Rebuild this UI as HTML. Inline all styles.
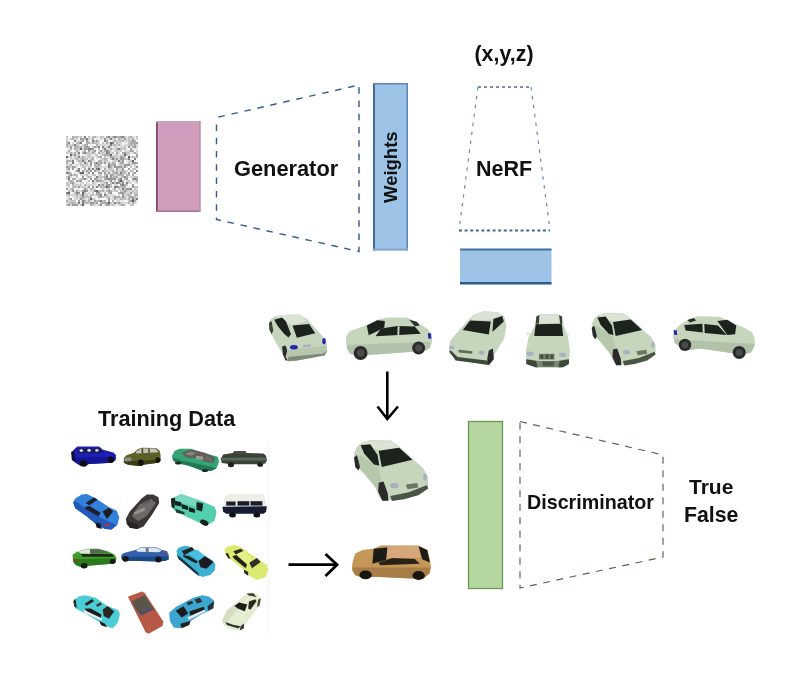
<!DOCTYPE html>
<html><head><meta charset="utf-8">
<style>
html,body{margin:0;padding:0;background:#fff;width:802px;height:675px;overflow:hidden}
svg{display:block}
text{will-change:transform}
text{font-family:"Liberation Sans",sans-serif;font-weight:bold;fill:#111}
</style></head><body>
<svg width="802" height="675" viewBox="0 0 802 675">
<defs>
<filter id="nblur" x="-5%" y="-5%" width="110%" height="110%"><feGaussianBlur stdDeviation="0.55"/></filter>
<filter id="soft" x="-5%" y="-5%" width="110%" height="110%"><feGaussianBlur stdDeviation="0.7"/></filter>
<filter id="soft2" x="-5%" y="-5%" width="110%" height="110%"><feGaussianBlur stdDeviation="0.72"/></filter>
</defs>
<rect x="0" y="0" width="802" height="675" fill="#fff"/>

<!-- noise square -->
<g filter="url(#nblur)">
<path fill="rgb(100,100,100)" d="M110 142h2v2h-2zM80 148h2v2h-2zM70 154h2v2h-2zM110 154h2v2h-2zM124 154h2v2h-2zM66 156h2v2h-2zM128 156h2v2h-2zM132 160h2v2h-2zM98 168h2v2h-2zM80 172h2v2h-2zM82 172h2v2h-2zM120 180h2v2h-2zM106 186h2v2h-2zM96 190h2v2h-2zM68 192h2v2h-2zM82 192h2v2h-2zM90 198h2v2h-2zM132 200h2v2h-2zM108 202h2v2h-2zM82 204h2v2h-2z"/>
<path fill="rgb(130,130,130)" d="M84 136h2v2h-2zM108 136h2v2h-2zM114 136h2v2h-2zM122 136h2v2h-2zM86 138h2v2h-2zM110 138h2v2h-2zM74 140h2v2h-2zM92 140h2v2h-2zM104 140h2v2h-2zM68 142h2v2h-2zM80 142h2v2h-2zM112 142h2v2h-2zM74 144h2v2h-2zM110 144h2v2h-2zM98 146h2v2h-2zM102 146h2v2h-2zM108 146h2v2h-2zM88 148h2v2h-2zM90 148h2v2h-2zM104 148h2v2h-2zM118 148h2v2h-2zM106 150h2v2h-2zM78 152h2v2h-2zM84 152h2v2h-2zM106 152h2v2h-2zM78 156h2v2h-2zM112 158h2v2h-2zM128 158h2v2h-2zM134 158h2v2h-2zM72 160h2v2h-2zM82 160h2v2h-2zM88 160h2v2h-2zM118 160h2v2h-2zM72 162h2v2h-2zM84 162h2v2h-2zM96 162h2v2h-2zM108 164h2v2h-2zM108 166h2v2h-2zM78 168h2v2h-2zM88 168h2v2h-2zM92 168h2v2h-2zM96 168h2v2h-2zM78 170h2v2h-2zM136 170h2v2h-2zM66 172h2v2h-2zM92 172h2v2h-2zM120 172h2v2h-2zM96 176h2v2h-2zM106 176h2v2h-2zM68 178h2v2h-2zM84 178h2v2h-2zM108 178h2v2h-2zM120 178h2v2h-2zM134 178h2v2h-2zM92 180h2v2h-2zM112 182h2v2h-2zM116 182h2v2h-2zM126 182h2v2h-2zM98 184h2v2h-2zM122 184h2v2h-2zM96 186h2v2h-2zM114 186h2v2h-2zM116 186h2v2h-2zM122 188h2v2h-2zM130 188h2v2h-2zM84 190h2v2h-2zM94 190h2v2h-2zM66 192h2v2h-2zM76 192h2v2h-2zM82 194h2v2h-2zM100 194h2v2h-2zM104 194h2v2h-2zM132 198h2v2h-2zM136 198h2v2h-2zM82 200h2v2h-2zM100 200h2v2h-2zM78 202h2v2h-2zM82 202h2v2h-2zM114 202h2v2h-2z"/>
<path fill="rgb(155,155,155)" d="M120 136h2v2h-2zM80 138h2v2h-2zM104 138h2v2h-2zM124 138h2v2h-2zM82 140h2v2h-2zM86 140h2v2h-2zM96 140h2v2h-2zM132 140h2v2h-2zM136 142h2v2h-2zM70 146h2v2h-2zM86 146h2v2h-2zM94 146h2v2h-2zM128 146h2v2h-2zM134 146h2v2h-2zM84 148h2v2h-2zM92 148h2v2h-2zM88 150h2v2h-2zM94 150h2v2h-2zM100 150h2v2h-2zM130 150h2v2h-2zM92 152h2v2h-2zM98 152h2v2h-2zM108 152h2v2h-2zM124 152h2v2h-2zM74 154h2v2h-2zM136 154h2v2h-2zM120 156h2v2h-2zM116 158h2v2h-2zM120 158h2v2h-2zM122 158h2v2h-2zM122 160h2v2h-2zM90 162h2v2h-2zM100 162h2v2h-2zM104 162h2v2h-2zM122 162h2v2h-2zM132 162h2v2h-2zM134 162h2v2h-2zM90 164h2v2h-2zM98 164h2v2h-2zM114 164h2v2h-2zM124 164h2v2h-2zM126 164h2v2h-2zM128 164h2v2h-2zM66 166h2v2h-2zM72 166h2v2h-2zM114 166h2v2h-2zM116 166h2v2h-2zM118 166h2v2h-2zM120 166h2v2h-2zM124 166h2v2h-2zM136 166h2v2h-2zM68 168h2v2h-2zM72 168h2v2h-2zM116 168h2v2h-2zM122 168h2v2h-2zM128 168h2v2h-2zM76 170h2v2h-2zM82 170h2v2h-2zM86 170h2v2h-2zM90 170h2v2h-2zM94 170h2v2h-2zM102 170h2v2h-2zM68 172h2v2h-2zM88 172h2v2h-2zM100 172h2v2h-2zM104 172h2v2h-2zM108 172h2v2h-2zM116 172h2v2h-2zM128 172h2v2h-2zM134 172h2v2h-2zM70 174h2v2h-2zM106 174h2v2h-2zM110 174h2v2h-2zM68 176h2v2h-2zM82 176h2v2h-2zM110 176h2v2h-2zM124 176h2v2h-2zM90 178h2v2h-2zM94 178h2v2h-2zM106 178h2v2h-2zM110 178h2v2h-2zM112 178h2v2h-2zM114 178h2v2h-2zM126 178h2v2h-2zM132 178h2v2h-2zM136 178h2v2h-2zM76 180h2v2h-2zM80 180h2v2h-2zM96 180h2v2h-2zM98 180h2v2h-2zM110 180h2v2h-2zM118 180h2v2h-2zM72 182h2v2h-2zM106 182h2v2h-2zM118 182h2v2h-2zM122 182h2v2h-2zM102 184h2v2h-2zM106 184h2v2h-2zM108 184h2v2h-2zM120 184h2v2h-2zM132 184h2v2h-2zM78 186h2v2h-2zM88 186h2v2h-2zM92 186h2v2h-2zM108 186h2v2h-2zM132 186h2v2h-2zM66 188h2v2h-2zM84 188h2v2h-2zM126 188h2v2h-2zM128 188h2v2h-2zM72 190h2v2h-2zM82 190h2v2h-2zM86 190h2v2h-2zM108 190h2v2h-2zM124 190h2v2h-2zM78 192h2v2h-2zM96 192h2v2h-2zM98 192h2v2h-2zM110 192h2v2h-2zM120 192h2v2h-2zM122 192h2v2h-2zM130 192h2v2h-2zM122 194h2v2h-2zM82 196h2v2h-2zM100 196h2v2h-2zM114 196h2v2h-2zM122 196h2v2h-2zM130 196h2v2h-2zM70 198h2v2h-2zM80 198h2v2h-2zM108 198h2v2h-2zM78 200h2v2h-2zM94 200h2v2h-2zM108 200h2v2h-2zM130 200h2v2h-2zM90 202h2v2h-2zM92 202h2v2h-2zM96 202h2v2h-2zM106 202h2v2h-2zM118 202h2v2h-2zM68 204h2v2h-2zM72 204h2v2h-2zM74 204h2v2h-2zM76 204h2v2h-2zM100 204h2v2h-2zM106 204h2v2h-2zM122 204h2v2h-2z"/>
<path fill="rgb(175,175,175)" d="M72 136h2v2h-2zM76 136h2v2h-2zM94 136h2v2h-2zM106 136h2v2h-2zM112 136h2v2h-2zM116 136h2v2h-2zM118 136h2v2h-2zM130 136h2v2h-2zM72 138h2v2h-2zM82 138h2v2h-2zM84 138h2v2h-2zM92 138h2v2h-2zM118 138h2v2h-2zM132 138h2v2h-2zM106 140h2v2h-2zM114 140h2v2h-2zM122 140h2v2h-2zM134 140h2v2h-2zM78 142h2v2h-2zM86 142h2v2h-2zM88 142h2v2h-2zM92 142h2v2h-2zM106 142h2v2h-2zM116 142h2v2h-2zM130 142h2v2h-2zM132 142h2v2h-2zM134 142h2v2h-2zM66 144h2v2h-2zM84 144h2v2h-2zM86 144h2v2h-2zM96 144h2v2h-2zM114 144h2v2h-2zM118 144h2v2h-2zM130 144h2v2h-2zM134 144h2v2h-2zM74 146h2v2h-2zM76 146h2v2h-2zM80 146h2v2h-2zM84 146h2v2h-2zM88 146h2v2h-2zM132 146h2v2h-2zM70 148h2v2h-2zM74 148h2v2h-2zM86 148h2v2h-2zM110 148h2v2h-2zM116 148h2v2h-2zM130 148h2v2h-2zM68 150h2v2h-2zM76 150h2v2h-2zM84 150h2v2h-2zM104 150h2v2h-2zM108 150h2v2h-2zM132 150h2v2h-2zM70 152h2v2h-2zM74 152h2v2h-2zM82 152h2v2h-2zM116 152h2v2h-2zM122 152h2v2h-2zM134 152h2v2h-2zM104 154h2v2h-2zM106 154h2v2h-2zM108 154h2v2h-2zM82 156h2v2h-2zM98 156h2v2h-2zM100 156h2v2h-2zM110 156h2v2h-2zM112 156h2v2h-2zM122 156h2v2h-2zM132 156h2v2h-2zM136 156h2v2h-2zM76 158h2v2h-2zM82 158h2v2h-2zM92 158h2v2h-2zM104 158h2v2h-2zM66 160h2v2h-2zM68 160h2v2h-2zM78 160h2v2h-2zM90 160h2v2h-2zM98 160h2v2h-2zM100 160h2v2h-2zM66 162h2v2h-2zM94 162h2v2h-2zM108 162h2v2h-2zM112 162h2v2h-2zM120 162h2v2h-2zM136 162h2v2h-2zM70 164h2v2h-2zM94 164h2v2h-2zM110 164h2v2h-2zM112 164h2v2h-2zM68 166h2v2h-2zM74 166h2v2h-2zM96 166h2v2h-2zM110 166h2v2h-2zM84 168h2v2h-2zM104 168h2v2h-2zM112 170h2v2h-2zM122 170h2v2h-2zM130 170h2v2h-2zM98 172h2v2h-2zM114 172h2v2h-2zM124 172h2v2h-2zM74 174h2v2h-2zM112 174h2v2h-2zM118 174h2v2h-2zM120 174h2v2h-2zM122 174h2v2h-2zM126 174h2v2h-2zM128 174h2v2h-2zM132 174h2v2h-2zM88 176h2v2h-2zM104 176h2v2h-2zM114 176h2v2h-2zM116 176h2v2h-2zM122 176h2v2h-2zM126 176h2v2h-2zM72 178h2v2h-2zM74 178h2v2h-2zM82 178h2v2h-2zM96 178h2v2h-2zM104 178h2v2h-2zM118 178h2v2h-2zM124 178h2v2h-2zM70 180h2v2h-2zM78 180h2v2h-2zM100 180h2v2h-2zM122 180h2v2h-2zM136 180h2v2h-2zM70 182h2v2h-2zM72 184h2v2h-2zM84 184h2v2h-2zM124 184h2v2h-2zM74 186h2v2h-2zM100 186h2v2h-2zM104 186h2v2h-2zM118 186h2v2h-2zM122 186h2v2h-2zM124 186h2v2h-2zM72 188h2v2h-2zM90 188h2v2h-2zM114 188h2v2h-2zM76 190h2v2h-2zM98 190h2v2h-2zM102 190h2v2h-2zM110 190h2v2h-2zM108 192h2v2h-2zM118 192h2v2h-2zM76 194h2v2h-2zM98 194h2v2h-2zM128 194h2v2h-2zM134 194h2v2h-2zM136 194h2v2h-2zM90 196h2v2h-2zM98 196h2v2h-2zM116 196h2v2h-2zM118 196h2v2h-2zM132 196h2v2h-2zM114 198h2v2h-2zM120 198h2v2h-2zM128 198h2v2h-2zM66 200h2v2h-2zM84 200h2v2h-2zM88 200h2v2h-2zM98 200h2v2h-2zM104 200h2v2h-2zM112 200h2v2h-2zM134 200h2v2h-2zM72 202h2v2h-2zM86 202h2v2h-2zM100 202h2v2h-2zM102 202h2v2h-2zM104 202h2v2h-2zM128 202h2v2h-2zM132 202h2v2h-2zM90 204h2v2h-2zM108 204h2v2h-2z"/>
<path fill="rgb(195,195,195)" d="M66 136h2v2h-2zM74 136h2v2h-2zM80 136h2v2h-2zM88 136h2v2h-2zM92 136h2v2h-2zM100 136h2v2h-2zM102 136h2v2h-2zM124 136h2v2h-2zM128 136h2v2h-2zM136 136h2v2h-2zM70 138h2v2h-2zM114 138h2v2h-2zM120 138h2v2h-2zM128 138h2v2h-2zM66 140h2v2h-2zM80 140h2v2h-2zM94 140h2v2h-2zM118 140h2v2h-2zM120 140h2v2h-2zM128 140h2v2h-2zM130 140h2v2h-2zM66 142h2v2h-2zM76 142h2v2h-2zM94 142h2v2h-2zM96 142h2v2h-2zM102 142h2v2h-2zM128 142h2v2h-2zM68 144h2v2h-2zM72 144h2v2h-2zM76 144h2v2h-2zM112 144h2v2h-2zM128 144h2v2h-2zM132 144h2v2h-2zM66 146h2v2h-2zM78 146h2v2h-2zM92 146h2v2h-2zM96 146h2v2h-2zM124 146h2v2h-2zM76 148h2v2h-2zM78 148h2v2h-2zM98 148h2v2h-2zM102 148h2v2h-2zM120 148h2v2h-2zM122 148h2v2h-2zM124 148h2v2h-2zM92 150h2v2h-2zM116 150h2v2h-2zM120 150h2v2h-2zM66 152h2v2h-2zM86 152h2v2h-2zM88 152h2v2h-2zM102 152h2v2h-2zM112 152h2v2h-2zM126 152h2v2h-2zM128 152h2v2h-2zM72 154h2v2h-2zM78 154h2v2h-2zM88 154h2v2h-2zM96 154h2v2h-2zM102 154h2v2h-2zM116 154h2v2h-2zM126 154h2v2h-2zM70 156h2v2h-2zM74 156h2v2h-2zM88 156h2v2h-2zM92 156h2v2h-2zM104 156h2v2h-2zM114 156h2v2h-2zM124 156h2v2h-2zM80 158h2v2h-2zM84 158h2v2h-2zM86 158h2v2h-2zM90 158h2v2h-2zM102 158h2v2h-2zM106 158h2v2h-2zM110 158h2v2h-2zM114 158h2v2h-2zM124 158h2v2h-2zM126 158h2v2h-2zM70 160h2v2h-2zM80 160h2v2h-2zM84 160h2v2h-2zM104 160h2v2h-2zM106 160h2v2h-2zM114 160h2v2h-2zM120 160h2v2h-2zM130 160h2v2h-2zM80 162h2v2h-2zM86 162h2v2h-2zM98 162h2v2h-2zM114 162h2v2h-2zM128 162h2v2h-2zM80 164h2v2h-2zM82 164h2v2h-2zM86 164h2v2h-2zM96 164h2v2h-2zM120 164h2v2h-2zM82 166h2v2h-2zM84 166h2v2h-2zM88 166h2v2h-2zM94 166h2v2h-2zM98 166h2v2h-2zM122 166h2v2h-2zM130 166h2v2h-2zM66 168h2v2h-2zM108 168h2v2h-2zM110 168h2v2h-2zM132 168h2v2h-2zM134 168h2v2h-2zM88 170h2v2h-2zM96 170h2v2h-2zM98 170h2v2h-2zM104 170h2v2h-2zM106 170h2v2h-2zM116 170h2v2h-2zM120 170h2v2h-2zM124 170h2v2h-2zM70 172h2v2h-2zM78 172h2v2h-2zM112 172h2v2h-2zM122 172h2v2h-2zM132 172h2v2h-2zM68 174h2v2h-2zM72 174h2v2h-2zM76 174h2v2h-2zM86 174h2v2h-2zM92 174h2v2h-2zM94 174h2v2h-2zM100 174h2v2h-2zM104 174h2v2h-2zM116 174h2v2h-2zM66 176h2v2h-2zM76 176h2v2h-2zM90 176h2v2h-2zM98 176h2v2h-2zM100 176h2v2h-2zM102 176h2v2h-2zM112 176h2v2h-2zM134 176h2v2h-2zM136 176h2v2h-2zM80 178h2v2h-2zM100 178h2v2h-2zM68 180h2v2h-2zM72 180h2v2h-2zM88 180h2v2h-2zM102 180h2v2h-2zM114 180h2v2h-2zM128 180h2v2h-2zM66 182h2v2h-2zM92 182h2v2h-2zM104 182h2v2h-2zM110 182h2v2h-2zM114 182h2v2h-2zM120 182h2v2h-2zM66 184h2v2h-2zM68 184h2v2h-2zM76 184h2v2h-2zM80 184h2v2h-2zM100 184h2v2h-2zM110 184h2v2h-2zM126 184h2v2h-2zM72 186h2v2h-2zM82 186h2v2h-2zM102 186h2v2h-2zM110 186h2v2h-2zM120 186h2v2h-2zM134 186h2v2h-2zM136 186h2v2h-2zM70 188h2v2h-2zM86 188h2v2h-2zM92 188h2v2h-2zM102 188h2v2h-2zM108 188h2v2h-2zM118 188h2v2h-2zM124 188h2v2h-2zM134 188h2v2h-2zM68 190h2v2h-2zM100 190h2v2h-2zM106 190h2v2h-2zM114 190h2v2h-2zM116 190h2v2h-2zM120 190h2v2h-2zM122 190h2v2h-2zM126 190h2v2h-2zM132 190h2v2h-2zM136 190h2v2h-2zM74 192h2v2h-2zM84 192h2v2h-2zM92 192h2v2h-2zM104 192h2v2h-2zM124 192h2v2h-2zM134 192h2v2h-2zM136 192h2v2h-2zM66 194h2v2h-2zM68 194h2v2h-2zM80 194h2v2h-2zM86 194h2v2h-2zM90 194h2v2h-2zM92 194h2v2h-2zM96 194h2v2h-2zM106 194h2v2h-2zM126 194h2v2h-2zM76 196h2v2h-2zM80 196h2v2h-2zM84 196h2v2h-2zM86 196h2v2h-2zM88 196h2v2h-2zM102 196h2v2h-2zM106 196h2v2h-2zM108 196h2v2h-2zM124 196h2v2h-2zM128 196h2v2h-2zM134 196h2v2h-2zM68 198h2v2h-2zM82 198h2v2h-2zM88 198h2v2h-2zM92 198h2v2h-2zM122 198h2v2h-2zM124 198h2v2h-2zM134 198h2v2h-2zM70 200h2v2h-2zM72 200h2v2h-2zM74 200h2v2h-2zM96 200h2v2h-2zM102 200h2v2h-2zM128 200h2v2h-2zM68 202h2v2h-2zM70 202h2v2h-2zM74 202h2v2h-2zM84 202h2v2h-2zM88 202h2v2h-2zM94 202h2v2h-2zM110 202h2v2h-2zM116 202h2v2h-2zM120 202h2v2h-2zM66 204h2v2h-2zM80 204h2v2h-2zM92 204h2v2h-2zM98 204h2v2h-2zM112 204h2v2h-2zM120 204h2v2h-2zM130 204h2v2h-2zM132 204h2v2h-2z"/>
<path fill="rgb(215,215,215)" d="M78 136h2v2h-2zM96 136h2v2h-2zM110 136h2v2h-2zM132 136h2v2h-2zM66 138h2v2h-2zM74 138h2v2h-2zM76 138h2v2h-2zM88 138h2v2h-2zM90 138h2v2h-2zM100 138h2v2h-2zM106 138h2v2h-2zM108 138h2v2h-2zM112 138h2v2h-2zM122 138h2v2h-2zM126 138h2v2h-2zM130 138h2v2h-2zM136 138h2v2h-2zM78 140h2v2h-2zM88 140h2v2h-2zM98 140h2v2h-2zM112 140h2v2h-2zM116 140h2v2h-2zM124 140h2v2h-2zM126 140h2v2h-2zM72 142h2v2h-2zM90 142h2v2h-2zM98 142h2v2h-2zM108 142h2v2h-2zM118 142h2v2h-2zM120 142h2v2h-2zM70 144h2v2h-2zM78 144h2v2h-2zM82 144h2v2h-2zM98 144h2v2h-2zM100 144h2v2h-2zM102 144h2v2h-2zM104 144h2v2h-2zM106 144h2v2h-2zM108 144h2v2h-2zM116 144h2v2h-2zM120 144h2v2h-2zM124 144h2v2h-2zM126 144h2v2h-2zM136 144h2v2h-2zM68 146h2v2h-2zM82 146h2v2h-2zM104 146h2v2h-2zM106 146h2v2h-2zM110 146h2v2h-2zM114 146h2v2h-2zM116 146h2v2h-2zM120 146h2v2h-2zM122 146h2v2h-2zM136 146h2v2h-2zM82 148h2v2h-2zM106 148h2v2h-2zM108 148h2v2h-2zM112 148h2v2h-2zM114 148h2v2h-2zM78 150h2v2h-2zM82 150h2v2h-2zM90 150h2v2h-2zM98 150h2v2h-2zM102 150h2v2h-2zM110 150h2v2h-2zM114 150h2v2h-2zM118 150h2v2h-2zM124 150h2v2h-2zM126 150h2v2h-2zM128 150h2v2h-2zM136 150h2v2h-2zM68 152h2v2h-2zM72 152h2v2h-2zM76 152h2v2h-2zM90 152h2v2h-2zM94 152h2v2h-2zM100 152h2v2h-2zM104 152h2v2h-2zM110 152h2v2h-2zM118 152h2v2h-2zM132 152h2v2h-2zM136 152h2v2h-2zM76 154h2v2h-2zM86 154h2v2h-2zM90 154h2v2h-2zM94 154h2v2h-2zM100 154h2v2h-2zM114 154h2v2h-2zM120 154h2v2h-2zM122 154h2v2h-2zM128 154h2v2h-2zM68 156h2v2h-2zM76 156h2v2h-2zM80 156h2v2h-2zM84 156h2v2h-2zM86 156h2v2h-2zM90 156h2v2h-2zM96 156h2v2h-2zM108 156h2v2h-2zM116 156h2v2h-2zM118 156h2v2h-2zM130 156h2v2h-2zM134 156h2v2h-2zM66 158h2v2h-2zM70 158h2v2h-2zM72 158h2v2h-2zM74 158h2v2h-2zM78 158h2v2h-2zM100 158h2v2h-2zM118 158h2v2h-2zM76 160h2v2h-2zM92 160h2v2h-2zM102 160h2v2h-2zM112 160h2v2h-2zM116 160h2v2h-2zM128 160h2v2h-2zM78 162h2v2h-2zM102 162h2v2h-2zM110 162h2v2h-2zM118 162h2v2h-2zM130 162h2v2h-2zM66 164h2v2h-2zM68 164h2v2h-2zM76 164h2v2h-2zM84 164h2v2h-2zM100 164h2v2h-2zM118 164h2v2h-2zM122 164h2v2h-2zM130 164h2v2h-2zM132 164h2v2h-2zM134 164h2v2h-2zM70 166h2v2h-2zM90 166h2v2h-2zM100 166h2v2h-2zM102 166h2v2h-2zM104 166h2v2h-2zM106 166h2v2h-2zM112 166h2v2h-2zM126 166h2v2h-2zM134 166h2v2h-2zM76 168h2v2h-2zM90 168h2v2h-2zM94 168h2v2h-2zM100 168h2v2h-2zM112 168h2v2h-2zM118 168h2v2h-2zM120 168h2v2h-2zM66 170h2v2h-2zM68 170h2v2h-2zM84 170h2v2h-2zM108 170h2v2h-2zM110 170h2v2h-2zM114 170h2v2h-2zM118 170h2v2h-2zM126 170h2v2h-2zM132 170h2v2h-2zM74 172h2v2h-2zM86 172h2v2h-2zM118 172h2v2h-2zM80 174h2v2h-2zM82 174h2v2h-2zM84 174h2v2h-2zM98 174h2v2h-2zM114 174h2v2h-2zM70 176h2v2h-2zM86 176h2v2h-2zM120 176h2v2h-2zM130 176h2v2h-2zM132 176h2v2h-2zM66 178h2v2h-2zM78 178h2v2h-2zM86 178h2v2h-2zM98 178h2v2h-2zM116 178h2v2h-2zM94 180h2v2h-2zM104 180h2v2h-2zM108 180h2v2h-2zM126 180h2v2h-2zM132 180h2v2h-2zM134 180h2v2h-2zM68 182h2v2h-2zM74 182h2v2h-2zM80 182h2v2h-2zM82 182h2v2h-2zM86 182h2v2h-2zM94 182h2v2h-2zM100 182h2v2h-2zM102 182h2v2h-2zM128 182h2v2h-2zM130 182h2v2h-2zM136 182h2v2h-2zM74 184h2v2h-2zM78 184h2v2h-2zM86 184h2v2h-2zM88 184h2v2h-2zM90 184h2v2h-2zM92 184h2v2h-2zM94 184h2v2h-2zM104 184h2v2h-2zM114 184h2v2h-2zM116 184h2v2h-2zM68 186h2v2h-2zM76 186h2v2h-2zM80 186h2v2h-2zM84 186h2v2h-2zM86 186h2v2h-2zM98 186h2v2h-2zM94 188h2v2h-2zM106 188h2v2h-2zM112 188h2v2h-2zM120 188h2v2h-2zM136 188h2v2h-2zM70 190h2v2h-2zM74 190h2v2h-2zM78 190h2v2h-2zM80 190h2v2h-2zM90 190h2v2h-2zM92 190h2v2h-2zM104 190h2v2h-2zM112 190h2v2h-2zM128 190h2v2h-2zM130 190h2v2h-2zM134 190h2v2h-2zM88 192h2v2h-2zM100 192h2v2h-2zM126 192h2v2h-2zM128 192h2v2h-2zM132 192h2v2h-2zM70 194h2v2h-2zM72 194h2v2h-2zM74 194h2v2h-2zM78 194h2v2h-2zM84 194h2v2h-2zM94 194h2v2h-2zM110 194h2v2h-2zM112 194h2v2h-2zM118 194h2v2h-2zM124 194h2v2h-2zM130 194h2v2h-2zM68 196h2v2h-2zM74 196h2v2h-2zM78 196h2v2h-2zM104 196h2v2h-2zM112 196h2v2h-2zM120 196h2v2h-2zM136 196h2v2h-2zM74 198h2v2h-2zM76 198h2v2h-2zM78 198h2v2h-2zM84 198h2v2h-2zM94 198h2v2h-2zM112 198h2v2h-2zM116 198h2v2h-2zM118 198h2v2h-2zM126 198h2v2h-2zM130 198h2v2h-2zM68 200h2v2h-2zM86 200h2v2h-2zM90 200h2v2h-2zM116 200h2v2h-2zM118 200h2v2h-2zM66 202h2v2h-2zM76 202h2v2h-2zM112 202h2v2h-2zM122 202h2v2h-2zM124 202h2v2h-2zM126 202h2v2h-2zM134 202h2v2h-2zM70 204h2v2h-2zM94 204h2v2h-2zM104 204h2v2h-2zM110 204h2v2h-2zM114 204h2v2h-2zM118 204h2v2h-2zM124 204h2v2h-2z"/>
<path fill="rgb(235,235,235)" d="M82 136h2v2h-2zM90 136h2v2h-2zM98 136h2v2h-2zM104 136h2v2h-2zM126 136h2v2h-2zM134 136h2v2h-2zM68 138h2v2h-2zM96 138h2v2h-2zM98 138h2v2h-2zM102 138h2v2h-2zM116 138h2v2h-2zM134 138h2v2h-2zM68 140h2v2h-2zM76 140h2v2h-2zM108 140h2v2h-2zM104 142h2v2h-2zM114 142h2v2h-2zM124 142h2v2h-2zM126 142h2v2h-2zM80 144h2v2h-2zM90 144h2v2h-2zM122 144h2v2h-2zM72 146h2v2h-2zM112 146h2v2h-2zM118 146h2v2h-2zM126 146h2v2h-2zM130 146h2v2h-2zM68 148h2v2h-2zM72 148h2v2h-2zM94 148h2v2h-2zM126 148h2v2h-2zM132 148h2v2h-2zM134 148h2v2h-2zM136 148h2v2h-2zM66 150h2v2h-2zM70 150h2v2h-2zM74 150h2v2h-2zM112 150h2v2h-2zM130 152h2v2h-2zM82 154h2v2h-2zM84 154h2v2h-2zM112 154h2v2h-2zM118 154h2v2h-2zM72 156h2v2h-2zM94 156h2v2h-2zM106 156h2v2h-2zM88 158h2v2h-2zM96 158h2v2h-2zM108 158h2v2h-2zM130 158h2v2h-2zM86 160h2v2h-2zM94 160h2v2h-2zM108 160h2v2h-2zM126 160h2v2h-2zM134 160h2v2h-2zM68 162h2v2h-2zM70 162h2v2h-2zM74 162h2v2h-2zM82 162h2v2h-2zM88 162h2v2h-2zM92 162h2v2h-2zM106 162h2v2h-2zM126 162h2v2h-2zM72 164h2v2h-2zM74 164h2v2h-2zM78 164h2v2h-2zM88 164h2v2h-2zM104 164h2v2h-2zM106 164h2v2h-2zM136 164h2v2h-2zM76 166h2v2h-2zM80 166h2v2h-2zM86 166h2v2h-2zM70 168h2v2h-2zM80 168h2v2h-2zM86 168h2v2h-2zM106 168h2v2h-2zM74 170h2v2h-2zM84 172h2v2h-2zM102 172h2v2h-2zM106 172h2v2h-2zM110 172h2v2h-2zM126 172h2v2h-2zM88 174h2v2h-2zM90 174h2v2h-2zM108 174h2v2h-2zM72 176h2v2h-2zM74 176h2v2h-2zM94 176h2v2h-2zM108 176h2v2h-2zM118 176h2v2h-2zM128 176h2v2h-2zM102 178h2v2h-2zM86 180h2v2h-2zM90 180h2v2h-2zM106 180h2v2h-2zM112 180h2v2h-2zM130 180h2v2h-2zM76 182h2v2h-2zM78 182h2v2h-2zM88 182h2v2h-2zM96 182h2v2h-2zM124 182h2v2h-2zM134 182h2v2h-2zM96 184h2v2h-2zM66 186h2v2h-2zM94 186h2v2h-2zM112 186h2v2h-2zM126 186h2v2h-2zM128 186h2v2h-2zM130 186h2v2h-2zM68 188h2v2h-2zM76 188h2v2h-2zM78 188h2v2h-2zM82 188h2v2h-2zM88 188h2v2h-2zM100 188h2v2h-2zM104 188h2v2h-2zM88 190h2v2h-2zM72 192h2v2h-2zM86 192h2v2h-2zM90 192h2v2h-2zM106 192h2v2h-2zM88 194h2v2h-2zM108 194h2v2h-2zM114 194h2v2h-2zM66 196h2v2h-2zM72 196h2v2h-2zM94 196h2v2h-2zM96 196h2v2h-2zM110 196h2v2h-2zM126 196h2v2h-2zM66 198h2v2h-2zM86 198h2v2h-2zM98 198h2v2h-2zM106 198h2v2h-2zM110 198h2v2h-2zM80 200h2v2h-2zM92 200h2v2h-2zM120 200h2v2h-2zM122 200h2v2h-2zM136 200h2v2h-2zM80 202h2v2h-2zM130 202h2v2h-2zM136 202h2v2h-2zM78 204h2v2h-2zM84 204h2v2h-2zM96 204h2v2h-2zM102 204h2v2h-2zM116 204h2v2h-2z"/>
<path fill="rgb(252,252,252)" d="M68 136h2v2h-2zM70 136h2v2h-2zM86 136h2v2h-2zM78 138h2v2h-2zM94 138h2v2h-2zM70 140h2v2h-2zM72 140h2v2h-2zM84 140h2v2h-2zM90 140h2v2h-2zM100 140h2v2h-2zM102 140h2v2h-2zM110 140h2v2h-2zM136 140h2v2h-2zM70 142h2v2h-2zM74 142h2v2h-2zM82 142h2v2h-2zM84 142h2v2h-2zM100 142h2v2h-2zM122 142h2v2h-2zM88 144h2v2h-2zM92 144h2v2h-2zM94 144h2v2h-2zM90 146h2v2h-2zM100 146h2v2h-2zM66 148h2v2h-2zM96 148h2v2h-2zM100 148h2v2h-2zM128 148h2v2h-2zM72 150h2v2h-2zM80 150h2v2h-2zM86 150h2v2h-2zM96 150h2v2h-2zM122 150h2v2h-2zM134 150h2v2h-2zM80 152h2v2h-2zM96 152h2v2h-2zM114 152h2v2h-2zM120 152h2v2h-2zM66 154h2v2h-2zM68 154h2v2h-2zM80 154h2v2h-2zM92 154h2v2h-2zM98 154h2v2h-2zM130 154h2v2h-2zM132 154h2v2h-2zM134 154h2v2h-2zM102 156h2v2h-2zM126 156h2v2h-2zM68 158h2v2h-2zM94 158h2v2h-2zM98 158h2v2h-2zM132 158h2v2h-2zM136 158h2v2h-2zM74 160h2v2h-2zM96 160h2v2h-2zM110 160h2v2h-2zM124 160h2v2h-2zM136 160h2v2h-2zM76 162h2v2h-2zM116 162h2v2h-2zM124 162h2v2h-2zM92 164h2v2h-2zM102 164h2v2h-2zM116 164h2v2h-2zM78 166h2v2h-2zM92 166h2v2h-2zM128 166h2v2h-2zM132 166h2v2h-2zM74 168h2v2h-2zM82 168h2v2h-2zM102 168h2v2h-2zM114 168h2v2h-2zM124 168h2v2h-2zM126 168h2v2h-2zM130 168h2v2h-2zM136 168h2v2h-2zM70 170h2v2h-2zM72 170h2v2h-2zM80 170h2v2h-2zM92 170h2v2h-2zM100 170h2v2h-2zM128 170h2v2h-2zM134 170h2v2h-2zM72 172h2v2h-2zM76 172h2v2h-2zM90 172h2v2h-2zM94 172h2v2h-2zM96 172h2v2h-2zM130 172h2v2h-2zM136 172h2v2h-2zM66 174h2v2h-2zM78 174h2v2h-2zM96 174h2v2h-2zM102 174h2v2h-2zM124 174h2v2h-2zM130 174h2v2h-2zM134 174h2v2h-2zM136 174h2v2h-2zM78 176h2v2h-2zM80 176h2v2h-2zM84 176h2v2h-2zM92 176h2v2h-2zM70 178h2v2h-2zM76 178h2v2h-2zM88 178h2v2h-2zM92 178h2v2h-2zM122 178h2v2h-2zM128 178h2v2h-2zM130 178h2v2h-2zM66 180h2v2h-2zM74 180h2v2h-2zM82 180h2v2h-2zM84 180h2v2h-2zM116 180h2v2h-2zM124 180h2v2h-2zM84 182h2v2h-2zM90 182h2v2h-2zM98 182h2v2h-2zM108 182h2v2h-2zM132 182h2v2h-2zM70 184h2v2h-2zM82 184h2v2h-2zM112 184h2v2h-2zM118 184h2v2h-2zM128 184h2v2h-2zM130 184h2v2h-2zM134 184h2v2h-2zM136 184h2v2h-2zM70 186h2v2h-2zM90 186h2v2h-2zM74 188h2v2h-2zM80 188h2v2h-2zM96 188h2v2h-2zM98 188h2v2h-2zM110 188h2v2h-2zM116 188h2v2h-2zM132 188h2v2h-2zM66 190h2v2h-2zM118 190h2v2h-2zM70 192h2v2h-2zM80 192h2v2h-2zM94 192h2v2h-2zM102 192h2v2h-2zM112 192h2v2h-2zM114 192h2v2h-2zM116 192h2v2h-2zM102 194h2v2h-2zM116 194h2v2h-2zM120 194h2v2h-2zM132 194h2v2h-2zM70 196h2v2h-2zM92 196h2v2h-2zM72 198h2v2h-2zM96 198h2v2h-2zM100 198h2v2h-2zM102 198h2v2h-2zM104 198h2v2h-2zM76 200h2v2h-2zM106 200h2v2h-2zM110 200h2v2h-2zM114 200h2v2h-2zM124 200h2v2h-2zM126 200h2v2h-2zM98 202h2v2h-2zM86 204h2v2h-2zM88 204h2v2h-2zM126 204h2v2h-2zM128 204h2v2h-2zM134 204h2v2h-2zM136 204h2v2h-2z"/>
</g>

<!-- pink rect -->
<rect x="156" y="121" width="44.5" height="91" fill="#d09dbd"/>
<rect x="156" y="121" width="1.8" height="91" fill="#84486c"/>
<rect x="156" y="121" width="44.5" height="1.5" fill="#c4a4b8"/>
<rect x="156" y="210.5" width="44.5" height="1.5" fill="#a87292"/>
<rect x="199" y="121" width="1.5" height="91" fill="#b890a8"/>

<!-- generator trapezoid -->
<path d="M216.5 117.5 L359 85 L359 251.5 L216.5 219.5 Z" fill="none" stroke="#36608e" stroke-width="1.45" stroke-dasharray="6.5 6.8" stroke-dashoffset="-2"/>
<text x="234" y="175.5" font-size="21.8">Generator</text>

<!-- weights -->
<rect x="373" y="83" width="35" height="167.5" fill="#9dc3e6"/>
<rect x="373" y="83" width="2" height="167.5" fill="#3d6b93"/>
<rect x="406.5" y="83" width="1.5" height="167.5" fill="#5b87b0"/>
<rect x="373" y="83" width="35" height="1.5" fill="#5b87b0"/>
<rect x="373" y="248.5" width="35" height="2" fill="#86a6d6"/>
<text transform="translate(397 203) rotate(-90)" font-size="18.5">Weights</text>

<!-- xyz -->
<text x="474.5" y="60.8" font-size="21.8" textLength="59" lengthAdjust="spacingAndGlyphs">(x,y,z)</text>

<!-- NeRF trapezoid -->
<path d="M478 87 L531 87" fill="none" stroke="#4a6a98" stroke-width="1.4" stroke-dasharray="3 3"/>
<path d="M459 230.5 L550 230.5" fill="none" stroke="#41659a" stroke-width="2" stroke-dasharray="3 2.6"/>
<path d="M478 87 L459 230 M531 87 L550 230" fill="none" stroke="#6a8cc0" stroke-width="1.2" stroke-dasharray="3.5 5.5"/>
<text x="476" y="175.6" font-size="21.5">NeRF</text>

<!-- blue bar -->
<rect x="460" y="249" width="91.5" height="35" fill="#9dc3e6"/>
<rect x="460" y="248.5" width="91.5" height="2" fill="#41719c"/>
<rect x="460" y="282" width="91.5" height="2.5" fill="#2f5b8a"/>

<!-- down arrow -->
<path d="M387.3 371.5 L387.3 419" stroke="#000" stroke-width="2.6" fill="none"/>
<path d="M377.5 406.5 L387.3 419 L398 406.5" stroke="#000" stroke-width="2.6" fill="none"/>

<!-- right arrow -->
<path d="M288.5 564.7 L337 564.7" stroke="#000" stroke-width="2.8" fill="none"/>
<path d="M325.5 554 L337 564.7 L325.5 576" stroke="#000" stroke-width="2.8" fill="none"/>

<!-- training data -->
<text x="98" y="426" font-size="21.7">Training Data</text>

<!-- green rect -->
<rect x="468.5" y="421.5" width="34" height="167" fill="#b5d6a0" stroke="#6a9a50" stroke-width="1.3"/>

<!-- discriminator trapezoid -->
<path d="M520 421.5 L663 455 L663 557 L520 588 Z" fill="none" stroke="#4f6a46" stroke-width="1.15" stroke-dasharray="7 6.5"/>
<text x="527" y="508.7" font-size="19.7">Discriminator</text>
<text x="689" y="494.4" font-size="21">True</text>
<text x="684" y="521.6" font-size="21.25">False</text>

<rect x="268" y="440" width="1" height="195" fill="#f5f5f5"/>
<!-- CARS -->
<g id="cars">
<g filter="url(#soft)">
<path d="M269.0 323.7 L270.7 319.3 L275.1 316.3 L282.1 315.0 L299.5 314.5 L307.4 319.3 L314.4 327.2 L321.4 335.1 L325.7 339.4 L327.0 344.7 L327.0 351.6 L323.1 355.1 L310.9 357.8 L296.9 360.4 L288.2 361.2 L284.7 357.8 L281.2 351.6 L276.0 342.9 L271.6 334.2 L269.0 328.9 Z" fill="#c6d6bc"/>
<path d="M275.1 316.3 L282.1 315.0 L299.5 314.5 L307.4 321.1 L292.5 325.5 L283.8 321.1 Z" fill="#dae3d4"/>
<path d="M274.2 319.8 L282.1 317.6 L286.0 321.5 L291.0 334.2 L288.4 337.5 L283.8 333.5 L277.7 325.9 Z" fill="#1c211e"/>
<path d="M292.5 325.5 L309.1 324.1 L315.2 333.3 L296.9 337.7 Z" fill="#1c211e"/>
<path d="M269.0 322.8 L271.6 321.1 L273.3 330.7 L271.6 334.2 L269.4 329.8 Z" fill="#3a4038"/>
<path d="M282.1 346.4 L285.6 345.5 L288.2 353.4 L289.1 360.4 L285.6 360.4 L282.9 354.3 Z" fill="#2a2c2a"/>
<path d="M287.3 349.9 L326.6 345.5 L327.0 351.6 L323.1 355.1 L310.9 357.8 L296.9 360.4 L288.2 361.2 L285.6 356.9 Z" fill="#b8c6ae"/>
<path d="M288.2 356.9 L323.1 353.4 L327.0 350.8 L324.8 355.6 L296.9 360.4 L288.2 361.2 Z" fill="#7e8a78"/>
<path d="M303.0 344.7 L310.9 344.2 L310.9 346.8 L303.0 347.3 Z" fill="#a8b0c8"/>
<ellipse cx="293.9" cy="347.3" rx="3.9" ry="2.2" fill="#2028b0"/>
<ellipse cx="324.0" cy="341.2" rx="1.7" ry="3.1" fill="#2028b0"/>
<path d="M346.0 342.4 L346.2 336.2 L349.4 331.2 L358.7 328.1 L366.8 325.0 L377.4 319.7 L387.4 317.5 L407.3 317.5 L417.3 322.5 L427.3 328.7 L431.6 333.7 L432.3 342.4 L429.8 348.0 L424.8 351.1 L412.3 351.8 L368.7 354.9 L360.0 357.4 L350.0 353.6 L346.9 348.6 Z" fill="#c6d6bc"/>
<path d="M347.5 344.9 L377.4 343.7 L429.8 341.8 L429.8 348.0 L424.8 351.1 L412.3 351.8 L368.7 354.9 L360.0 357.4 L350.0 353.6 L346.9 348.6 Z" fill="#b2c1aa"/>
<path d="M366.8 325.6 L377.4 320.2 L384.9 321.0 L384.3 327.4 L376.2 331.8 L368.7 335.2 Z" fill="#1c211e"/>
<path d="M375.5 336.2 L381.1 328.4 L397.4 325.9 L414.8 326.6 L420.8 333.7 L398.6 334.9 Z" fill="#1c211e"/>
<path d="M397.6 326.2 L399.6 326.2 L399.2 334.9 L397.4 334.9 Z" fill="#c6d6bc"/>
<path d="M409.2 319.7 L416.7 321.8 L419.8 325.6 L414.8 326.2 Z" fill="#2a302a"/>
<ellipse cx="360.6" cy="353.0" rx="6.9" ry="6.9" fill="#2a2c2a"/>
<ellipse cx="360.6" cy="353.0" rx="3.7" ry="3.7" fill="#4a4e4a"/>
<ellipse cx="418.6" cy="348.0" rx="6.5" ry="6.5" fill="#2a2c2a"/>
<ellipse cx="418.6" cy="348.0" rx="3.5" ry="3.5" fill="#4a4e4a"/>
<path d="M427.9 333.1 L431.0 333.4 L431.3 338.7 L428.3 338.4 Z" fill="#2028b0"/>
<path d="M448.8 348.6 L450.4 340.3 L457.6 332.0 L465.9 322.6 L474.2 314.3 L483.6 311.2 L498.1 312.3 L504.3 316.4 L506.4 325.7 L504.3 338.2 L498.1 348.6 L491.9 358.9 L488.8 365.2 L483.6 364.6 L471.1 361.5 L460.7 358.9 L453.5 356.9 L449.3 353.8 Z" fill="#c6d6bc"/>
<path d="M474.2 314.3 L483.6 311.2 L498.1 312.3 L502.2 315.4 L491.9 319.5 L471.1 320.6 Z" fill="#dae3d4"/>
<path d="M462.8 329.9 L470.1 320.6 L490.8 321.6 L488.8 334.6 Z" fill="#1c211e"/>
<path d="M493.4 319.0 L502.2 315.9 L503.8 321.6 L492.4 332.0 Z" fill="#1c211e"/>
<path d="M449.1 351.3 L455.6 360.5 L471.1 362.6 L488.8 365.0 L491.1 361.0 L474.2 358.9 L457.6 356.9 L450.9 350.6 Z" fill="#3e4a3a"/>
<path d="M458.7 349.8 L472.2 351.2 L472.2 353.8 L458.7 352.5 Z" fill="#5e6a58"/>
<path d="M488.8 350.6 L492.9 348.6 L493.9 358.9 L488.8 365.2 L487.2 358.9 Z" fill="#2a2c2a"/>
<ellipse cx="451.9" cy="347.5" rx="2.6" ry="2.1" fill="#a8b0c4"/>
<ellipse cx="481.5" cy="352.7" rx="3.1" ry="2.1" fill="#a8b0c4"/>
<path d="M526.4 363.1 L525.9 350.6 L528.5 337.2 L534.7 325.7 L536.8 316.4 L539.9 314.3 L558.6 314.3 L561.7 317.4 L563.8 325.7 L567.9 336.1 L570.0 350.6 L568.9 364.1 L562.7 367.2 L535.7 367.2 Z" fill="#c6d6bc"/>
<path d="M538.3 314.9 L559.6 314.9 L561.2 323.2 L536.8 323.2 Z" fill="#dae3d4"/>
<path d="M535.7 324.2 L561.7 323.7 L563.2 336.1 L534.2 336.1 Z" fill="#1c211e"/>
<path d="M526.4 332.5 L530.6 332.5 L530.6 335.1 L526.4 335.1 Z" fill="#e0e6dc"/>
<path d="M565.8 332.5 L568.9 332.5 L568.9 335.1 L565.8 335.1 Z" fill="#e0e6dc"/>
<path d="M526.4 358.9 L538.9 361.0 L556.5 361.0 L568.9 358.9 L568.9 364.1 L562.7 367.2 L535.7 367.2 L526.4 364.1 Z" fill="#7a8674"/>
<path d="M526.4 359.5 L535.7 361.0 L537.8 367.2 L535.7 367.2 L526.4 364.1 Z" fill="#3e463a"/>
<path d="M559.6 361.0 L568.9 359.5 L568.9 364.1 L562.7 367.2 L558.6 367.2 Z" fill="#3e463a"/>
<path d="M542.0 361.5 L554.4 361.5 L553.4 366.2 L543.0 366.2 Z" fill="#4e5848"/>
<path d="M538.9 353.8 L554.4 353.8 L554.4 359.5 L538.9 359.5 Z" fill="#6a7664"/>
<path d="M540.9 354.8 L543.0 354.8 L543.0 358.9 L540.9 358.9 Z" fill="#3e463a"/>
<path d="M546.1 354.8 L548.2 354.8 L548.2 358.9 L546.1 358.9 Z" fill="#3e463a"/>
<path d="M550.8 354.8 L552.9 354.8 L552.9 358.9 L550.8 358.9 Z" fill="#3e463a"/>
<path d="M536.3 316.4 L539.4 314.9 L538.9 323.7 L535.7 323.7 Z" fill="#3a4236"/>
<path d="M559.1 314.9 L562.2 316.4 L562.2 323.7 L560.1 323.7 Z" fill="#3a4236"/>
<ellipse cx="530.0" cy="353.8" rx="3.6" ry="2.3" fill="#a8b0c4"/>
<ellipse cx="562.7" cy="354.8" rx="3.6" ry="2.3" fill="#a8b0c4"/>
<path d="M591.7 324.7 L594.3 318.5 L598.5 314.9 L605.7 312.8 L623.4 313.3 L630.6 318.5 L637.9 324.7 L643.1 329.9 L651.4 337.2 L655.5 344.4 L655.5 351.7 L651.4 357.9 L636.9 361.0 L626.5 364.1 L619.2 365.2 L614.0 363.1 L609.9 353.8 L600.6 342.3 L593.3 335.1 Z" fill="#c6d6bc"/>
<path d="M592.3 329.9 L595.4 335.1 L609.9 352.7 L615.1 363.1 L616.1 350.6 L613.0 337.2 L597.4 325.7 Z" fill="#b6c8ac"/>
<path d="M598.5 315.4 L605.7 313.3 L623.4 313.8 L630.6 319.5 L614.0 322.1 Z" fill="#dae3d4"/>
<path d="M597.4 317.4 L605.7 316.4 L612.0 325.7 L613.5 335.1 L608.9 334.0 L600.6 324.7 Z" fill="#1c211e"/>
<path d="M613.0 322.1 L630.6 319.5 L642.1 329.9 L615.6 336.1 Z" fill="#1c211e"/>
<path d="M591.7 327.8 L594.3 325.7 L596.9 336.1 L595.4 339.2 L592.8 336.1 Z" fill="#2a2c2a"/>
<path d="M613.0 349.6 L617.2 348.6 L620.8 358.9 L621.3 365.2 L616.1 365.2 L612.5 356.9 Z" fill="#2a2c2a"/>
<path d="M622.9 361.0 L638.9 357.9 L654.7 351.7 L655.7 354.6 L647.2 360.5 L634.8 363.9 L624.4 365.4 Z" fill="#4a5646"/>
<path d="M636.3 351.2 L646.2 349.8 L647.2 353.8 L637.9 355.3 Z" fill="#6a7664"/>
<ellipse cx="626.5" cy="352.2" rx="3.6" ry="2.3" fill="#a8b0c4"/>
<ellipse cx="652.9" cy="344.9" rx="1.6" ry="2.9" fill="#a8b0c4"/>
<path d="M673.1 336.2 L674.4 329.9 L681.2 323.7 L689.9 318.7 L697.4 316.2 L719.9 316.8 L734.8 323.7 L744.8 328.1 L752.3 332.4 L754.8 338.7 L754.8 346.1 L751.0 352.4 L742.3 354.9 L734.8 353.6 L699.9 348.6 L689.9 349.9 L680.0 347.4 L674.4 342.4 Z" fill="#c6d6bc"/>
<path d="M674.4 339.3 L714.9 341.8 L754.8 343.7 L751.0 352.4 L742.3 354.9 L734.8 353.6 L699.9 348.6 L689.9 349.9 L680.0 347.4 L674.4 342.4 Z" fill="#b2c1aa"/>
<path d="M684.3 325.0 L702.4 323.7 L702.7 332.4 L685.6 330.6 Z" fill="#1c211e"/>
<path d="M704.3 324.0 L718.0 325.6 L726.7 334.9 L704.7 333.1 Z" fill="#1c211e"/>
<path d="M717.4 321.0 L727.3 319.7 L736.3 325.6 L735.1 334.3 L727.3 334.9 Z" fill="#1c211e"/>
<path d="M687.4 320.0 L693.7 318.1 L696.2 320.6 L689.9 322.5 Z" fill="#2a302a"/>
<ellipse cx="685.0" cy="344.9" rx="6.2" ry="6.2" fill="#2a2c2a"/>
<ellipse cx="685.0" cy="344.9" rx="3.2" ry="3.2" fill="#4a4e4a"/>
<ellipse cx="739.2" cy="352.4" rx="6.5" ry="6.5" fill="#2a2c2a"/>
<ellipse cx="739.2" cy="352.4" rx="3.5" ry="3.5" fill="#4a4e4a"/>
<path d="M673.7 329.9 L676.8 330.6 L677.2 334.9 L674.0 334.7 Z" fill="#2028b0"/>
<g transform="translate(354 440) scale(1.16) translate(-591.7 -312.8)">
<path d="M591.7 324.7 L594.3 318.5 L598.5 314.9 L605.7 312.8 L623.4 313.3 L630.6 318.5 L637.9 324.7 L643.1 329.9 L651.4 337.2 L655.5 344.4 L655.5 351.7 L651.4 357.9 L636.9 361.0 L626.5 364.1 L619.2 365.2 L614.0 363.1 L609.9 353.8 L600.6 342.3 L593.3 335.1 Z" fill="#c6d6bc"/>
<path d="M592.3 329.9 L595.4 335.1 L609.9 352.7 L615.1 363.1 L616.1 350.6 L613.0 337.2 L597.4 325.7 Z" fill="#b6c8ac"/>
<path d="M598.5 315.4 L605.7 313.3 L623.4 313.8 L630.6 319.5 L614.0 322.1 Z" fill="#dae3d4"/>
<path d="M597.4 317.4 L605.7 316.4 L612.0 325.7 L613.5 335.1 L608.9 334.0 L600.6 324.7 Z" fill="#1c211e"/>
<path d="M613.0 322.1 L630.6 319.5 L642.1 329.9 L615.6 336.1 Z" fill="#1c211e"/>
<path d="M591.7 327.8 L594.3 325.7 L596.9 336.1 L595.4 339.2 L592.8 336.1 Z" fill="#2a2c2a"/>
<path d="M613.0 349.6 L617.2 348.6 L620.8 358.9 L621.3 365.2 L616.1 365.2 L612.5 356.9 Z" fill="#2a2c2a"/>
<path d="M622.9 361.0 L638.9 357.9 L654.7 351.7 L655.7 354.6 L647.2 360.5 L634.8 363.9 L624.4 365.4 Z" fill="#4a5646"/>
<path d="M636.3 351.2 L646.2 349.8 L647.2 353.8 L637.9 355.3 Z" fill="#6a7664"/>
<ellipse cx="626.5" cy="352.2" rx="3.6" ry="2.3" fill="#a8b0c4"/>
<ellipse cx="652.9" cy="344.9" rx="1.6" ry="2.9" fill="#a8b0c4"/>
</g>
<path d="M351.8 569.9 L352.5 562.4 L355.0 553.7 L362.4 550.0 L373.7 548.7 L381.1 545.6 L418.6 545.6 L427.3 550.0 L429.8 558.7 L431.0 567.4 L429.8 573.0 L423.5 578.6 L412.3 578.6 L374.9 576.8 L362.4 577.4 L355.0 574.9 Z" fill="#c49658"/>
<path d="M387.4 546.2 L418.6 546.2 L421.0 557.4 L381.1 558.7 Z" fill="#d6a87c"/>
<path d="M352.5 567.4 L429.8 567.4 L429.8 573.0 L423.5 578.6 L412.3 578.6 L374.9 576.8 L362.4 577.4 L355.0 574.9 Z" fill="#a87c44"/>
<path d="M373.7 548.7 L387.4 547.5 L386.1 559.9 L372.4 563.7 Z" fill="#1e1a14"/>
<path d="M418.6 546.2 L427.3 550.0 L429.8 562.4 L422.3 559.3 Z" fill="#1e1a14"/>
<path d="M378.7 562.4 L392.4 558.1 L414.8 558.9 L419.8 563.7 L379.9 565.2 Z" fill="#2a2218"/>
<ellipse cx="365.6" cy="574.9" rx="6.2" ry="4.4" fill="#15130f"/>
<ellipse cx="418.6" cy="575.5" rx="6.2" ry="4.4" fill="#15130f"/>
</g>
<g filter="url(#soft2)">
<path d="M71.9 451.7 L75.8 447.8 L77.7 446.5 L99.1 446.5 L103.0 449.8 L113.4 452.4 L116.0 455.0 L115.3 460.2 L112.1 462.8 L88.8 464.0 L84.2 466.6 L79.7 465.3 L73.8 461.5 L71.9 457.6 Z" fill="#1e1eb6"/>
<path d="M77.7 448.5 L100.4 448.5 L104.3 452.7 L78.4 453.2 Z" fill="#1a1a52"/>
<ellipse cx="81.3" cy="450.6" rx="1.8" ry="1.3" fill="#e4e4ee"/>
<ellipse cx="89.1" cy="450.4" rx="1.8" ry="1.3" fill="#e4e4ee"/>
<ellipse cx="96.9" cy="450.4" rx="1.7" ry="1.3" fill="#d8d8e8"/>
<path d="M71.9 456.9 L116.0 456.9 L115.3 460.2 L112.1 462.8 L88.8 464.0 L84.2 466.6 L79.7 465.3 L73.8 461.5 Z" fill="#141494"/>
<path d="M71.1 451.7 L74.5 451.1 L74.8 461.5 L71.9 460.2 Z" fill="#10103a"/>
<ellipse cx="83.6" cy="463.4" rx="3.6" ry="3.2" fill="#0e0e14"/>
<ellipse cx="110.8" cy="459.6" rx="3.2" ry="3.1" fill="#0e0e14"/>
<path d="M123.8 458.3 L126.0 455.5 L133.7 452.8 L138.1 448.9 L141.9 447.8 L156.2 448.1 L159.5 450.6 L160.6 455.0 L160.6 460.5 L158.4 462.7 L143.0 464.8 L138.7 465.9 L128.2 464.8 L123.8 462.7 Z" fill="#5c6128"/>
<path d="M135.9 451.8 L140.8 448.4 L155.7 448.4 L158.7 452.2 L136.5 453.4 Z" fill="#c4c4b8"/>
<path d="M141.4 448.4 L143.0 448.4 L143.3 453.1 L141.7 453.2 Z" fill="#40442a"/>
<path d="M148.0 448.4 L149.6 448.4 L149.9 452.8 L148.3 452.9 Z" fill="#50543a"/>
<path d="M124.4 457.7 L131.0 457.2 L131.5 462.1 L124.7 462.1 Z" fill="#8a9088"/>
<path d="M123.8 461.6 L160.6 459.4 L160.6 460.5 L158.4 462.7 L143.0 464.8 L138.7 465.9 L128.2 464.8 L123.8 462.7 Z" fill="#3c4018"/>
<ellipse cx="140.8" cy="462.7" rx="3.0" ry="3.2" fill="#16180e"/>
<ellipse cx="157.8" cy="460.0" rx="2.5" ry="2.7" fill="#16180e"/>
<path d="M172.0 456.1 L174.7 450.7 L180.1 448.7 L190.9 448.7 L205.7 453.4 L217.8 456.8 L219.2 461.5 L216.5 468.2 L211.1 470.9 L203.0 470.9 L188.2 465.5 L176.1 462.9 L172.7 460.2 Z" fill="#34a474"/>
<path d="M172.7 458.8 L176.1 462.9 L188.2 465.5 L203.0 470.9 L211.1 470.9 L216.5 468.2 L208.4 466.2 L196.3 463.5 L181.5 460.8 L173.4 457.5 Z" fill="#247a54"/>
<path d="M181.8 452.8 L190.9 449.5 L205.7 452.9 L215.1 457.5 L213.8 463.0 L204.4 461.6 L198.3 458.3 L185.5 457.6 Z" fill="#625e5a"/>
<path d="M184.8 454.1 L190.2 451.7 L196.3 453.1 L191.6 455.8 Z" fill="#8a8884"/>
<path d="M195.6 455.8 L203.0 456.5 L203.7 459.8 L196.3 459.2 Z" fill="#a09a8c"/>
<path d="M205.7 456.1 L212.4 458.1 L211.8 461.5 L206.4 460.2 Z" fill="#6e6a66"/>
<ellipse cx="178.1" cy="462.9" rx="3.0" ry="1.5" fill="#1a2a20"/>
<ellipse cx="205.0" cy="470.6" rx="3.0" ry="1.5" fill="#1a2a20"/>
<path d="M220.6 459.0 L223.2 454.4 L232.9 453.1 L234.2 450.9 L245.2 450.9 L246.5 453.1 L263.4 453.5 L266.0 455.7 L267.0 460.3 L265.3 463.5 L260.2 464.2 L231.0 464.2 L221.9 462.9 Z" fill="#3a423a"/>
<path d="M234.2 451.1 L245.2 451.1 L246.2 453.5 L233.6 453.5 Z" fill="#4e4a42"/>
<path d="M221.9 457.7 L266.0 457.5 L266.3 460.4 L221.6 460.6 Z" fill="#586a52"/>
<path d="M223.8 455.1 L264.7 454.8 L265.3 456.4 L223.5 456.7 Z" fill="#3c403a"/>
<ellipse cx="231.0" cy="464.8" rx="3.1" ry="2.5" fill="#1c201c"/>
<ellipse cx="260.2" cy="464.7" rx="2.9" ry="2.1" fill="#1c201c"/>
<path d="M73.2 502.3 L75.2 498.4 L81.7 494.5 L86.9 493.9 L94.6 497.8 L108.9 506.9 L116.7 510.8 L119.3 517.2 L117.3 525.0 L111.5 529.6 L105.0 528.9 L97.2 525.0 L86.2 515.9 L75.2 508.2 Z" fill="#3080dc"/>
<path d="M73.2 502.3 L75.2 508.2 L86.2 515.9 L97.2 525.0 L105.0 528.9 L111.5 529.6 L116.7 525.0 L106.3 520.5 L98.5 516.6 L85.6 508.8 L75.8 501.3 Z" fill="#2058b8"/>
<path d="M85.6 503.0 L94.0 497.5 L97.6 499.7 L89.5 505.2 Z" fill="#1a1e2a"/>
<path d="M84.9 506.9 L89.5 505.9 L100.5 512.7 L98.5 516.6 L85.6 509.1 Z" fill="#1a1e2a"/>
<path d="M102.4 511.4 L108.9 507.8 L113.1 511.4 L107.0 518.9 Z" fill="#1e1e22"/>
<path d="M95.3 522.4 L100.5 523.7 L101.8 528.9 L96.6 527.6 Z" fill="#101828"/>
<path d="M104.0 524.0 L109.2 523.4 L109.7 525.5 L104.5 526.0 Z" fill="#c02a3c"/>
<path d="M125.9 518.7 L129.8 511.5 L141.6 498.5 L146.8 494.6 L153.3 494.6 L158.5 497.2 L159.2 503.0 L152.0 514.8 L143.5 526.5 L137.7 529.1 L129.8 527.8 L126.6 523.9 Z" fill="#3a3434"/>
<path d="M131.8 516.1 L139.6 504.4 L151.4 499.1 L155.9 503.0 L146.8 516.1 L138.3 521.3 Z" fill="#6e6866"/>
<path d="M133.7 512.2 L144.2 507.6 L145.5 510.2 L135.0 514.8 Z" fill="#9a928a"/>
<path d="M141.6 503.0 L149.4 499.8 L150.7 501.7 L142.9 505.0 Z" fill="#5a5c66"/>
<path d="M126.6 520.7 L138.3 525.2 L137.7 529.1 L129.8 527.8 Z" fill="#2a2020"/>
<path d="M171.2 499.7 L173.8 497.8 L181.0 493.9 L197.8 499.7 L204.3 502.3 L214.7 506.9 L216.6 512.0 L214.7 520.5 L210.2 523.7 L201.7 523.7 L187.5 517.2 L175.8 511.4 L171.9 507.5 Z" fill="#52cfb0"/>
<path d="M175.8 497.8 L181.0 494.0 L198.5 500.1 L195.9 506.2 L176.4 501.7 Z" fill="#7ad8c0"/>
<path d="M174.8 500.7 L181.3 502.3 L181.6 506.5 L175.1 505.2 Z" fill="#18241f"/>
<path d="M181.6 503.9 L187.8 505.9 L188.1 510.1 L181.9 508.5 Z" fill="#18241f"/>
<path d="M188.6 507.0 L194.9 509.1 L195.2 513.0 L188.9 511.4 Z" fill="#18241f"/>
<path d="M196.5 502.0 L203.3 503.6 L202.0 511.4 L196.5 509.8 Z" fill="#18241f"/>
<path d="M170.9 498.4 L175.1 497.7 L174.5 508.5 L171.6 507.0 Z" fill="#18241f"/>
<path d="M175.1 508.8 L184.2 512.0 L184.9 514.6 L176.4 512.7 Z" fill="#223a32"/>
<ellipse cx="204.3" cy="522.7" rx="4.5" ry="2.6" transform="rotate(25 204.3 522.7)" fill="#18241f"/>
<path d="M223.7 499.4 L226.2 495.6 L229.4 493.7 L262.4 493.7 L264.9 497.5 L266.1 501.2 L266.4 506.5 L223.4 506.8 Z" fill="#eeeee6"/>
<path d="M226.2 501.5 L235.6 501.5 L235.6 505.6 L226.2 505.6 Z" fill="#1a1e2a"/>
<path d="M237.5 501.2 L249.3 501.2 L249.3 505.6 L237.5 505.6 Z" fill="#1a1e2a"/>
<path d="M250.5 501.2 L262.4 501.2 L262.4 505.6 L250.5 505.6 Z" fill="#1a1e2a"/>
<path d="M222.5 506.8 L266.8 506.3 L266.1 511.8 L263.6 513.8 L226.2 513.8 L223.1 511.8 Z" fill="#161c32"/>
<ellipse cx="232.5" cy="514.9" rx="3.4" ry="2.5" fill="#0e0e14"/>
<ellipse cx="256.8" cy="514.9" rx="3.4" ry="2.5" fill="#0e0e14"/>
<path d="M72.5 554.7 L77.7 551.4 L87.5 548.8 L98.5 548.8 L108.2 551.4 L114.7 554.7 L116.6 558.6 L115.3 562.5 L112.1 563.8 L87.5 565.7 L82.3 567.6 L75.8 565.0 L73.2 561.8 Z" fill="#3c9c2a"/>
<path d="M77.7 551.6 L87.5 549.0 L90.4 549.5 L90.0 553.7 L81.0 553.5 Z" fill="#dfe4dc"/>
<path d="M90.0 549.2 L99.1 549.4 L110.2 552.6 L90.0 553.7 Z" fill="#5a6a56"/>
<path d="M81.0 553.9 L112.1 554.0 L113.7 556.7 L82.3 556.7 Z" fill="#1a2a18"/>
<path d="M72.9 559.2 L116.0 558.6 L115.3 562.5 L112.1 563.8 L87.5 565.7 L82.3 567.6 L75.8 565.0 L73.2 561.8 Z" fill="#2a7a1e"/>
<ellipse cx="84.2" cy="565.7" rx="3.4" ry="2.7" fill="#141a12"/>
<ellipse cx="112.7" cy="561.3" rx="2.9" ry="2.6" fill="#141a12"/>
<path d="M73.2 558.9 L77.7 559.2 L77.7 561.3 L73.3 561.0 Z" fill="#a03430"/>
<path d="M121.3 554.9 L123.9 553.0 L136.2 549.7 L141.4 547.1 L155.7 547.1 L161.5 549.7 L166.7 551.0 L168.6 554.3 L168.6 559.5 L165.4 560.8 L158.9 561.4 L129.7 560.8 L122.6 560.1 L121.3 558.2 Z" fill="#3060ac"/>
<path d="M136.2 549.9 L141.4 547.5 L155.7 547.5 L161.8 550.4 L158.9 552.2 L137.5 551.8 Z" fill="#dfe6ee"/>
<path d="M145.6 548.1 L148.5 548.1 L148.9 552.3 L145.9 552.3 Z" fill="#687888"/>
<path d="M121.3 556.9 L168.6 556.2 L168.6 559.5 L165.4 560.8 L158.9 561.4 L129.7 560.8 L122.6 560.1 Z" fill="#1f4886"/>
<ellipse cx="125.5" cy="558.8" rx="3.2" ry="2.9" fill="#12141a"/>
<ellipse cx="158.3" cy="559.5" rx="3.2" ry="2.9" fill="#12141a"/>
<path d="M162.8 551.7 L166.7 551.8 L166.8 553.6 L162.9 553.5 Z" fill="#9a4050"/>
<path d="M176.5 551.0 L178.4 547.8 L184.9 545.8 L189.5 546.5 L203.7 554.9 L212.8 560.8 L215.4 564.6 L214.7 570.5 L210.2 575.0 L202.4 577.0 L195.9 573.7 L186.9 565.9 L177.8 558.2 Z" fill="#3cb0d2"/>
<path d="M181.7 551.0 L192.0 547.1 L194.1 549.7 L184.3 555.0 Z" fill="#1e2226"/>
<path d="M183.0 555.0 L189.5 556.3 L198.0 561.4 L196.1 563.5 L183.6 557.0 Z" fill="#1e2226"/>
<path d="M188.8 553.0 L197.2 549.7 L204.4 555.6 L197.9 560.8 Z" fill="#48c0e0"/>
<path d="M198.5 560.9 L205.0 556.3 L213.6 562.0 L206.4 568.7 L200.5 567.2 Z" fill="#1c1e20"/>
<path d="M176.8 554.6 L179.1 559.5 L195.9 573.7 L199.8 576.6 L197.9 572.4 L181.0 557.8 Z" fill="#1a3440"/>
<path d="M224.5 549.5 L227.6 546.4 L234.5 545.1 L240.7 547.0 L250.0 553.8 L260.6 560.7 L266.8 565.0 L268.1 570.0 L265.6 576.9 L256.9 580.0 L248.8 575.6 L242.5 568.8 L229.5 558.2 L225.1 553.8 Z" fill="#dbe970"/>
<path d="M236.3 553.8 L243.2 550.7 L251.9 558.8 L248.2 564.4 Z" fill="#e6f08a"/>
<path d="M233.2 551.3 L240.7 548.7 L243.5 550.8 L235.8 554.6 Z" fill="#2a2c1e"/>
<path d="M232.3 556.3 L236.3 555.1 L247.0 564.5 L245.7 568.3 L234.5 558.9 Z" fill="#22241a"/>
<path d="M249.3 562.7 L256.9 558.1 L260.7 562.0 L252.0 568.3 Z" fill="#2e3020"/>
<path d="M225.4 553.8 L227.9 553.1 L230.4 558.9 L228.2 558.3 Z" fill="#2a2c1e"/>
<path d="M243.8 569.4 L248.2 571.9 L248.2 575.7 L244.4 573.3 Z" fill="#2a2c1e"/>
<path d="M73.9 601.0 L78.4 596.5 L84.9 595.2 L95.9 597.8 L106.3 605.6 L118.0 610.1 L119.9 614.0 L118.0 622.4 L112.8 628.3 L106.3 626.3 L101.1 623.1 L84.9 613.3 L75.2 608.2 Z" fill="#4ccdd6"/>
<path d="M84.6 603.7 L92.0 599.1 L94.1 601.2 L86.7 605.7 Z" fill="#2a2420"/>
<path d="M95.9 605.0 L100.5 602.3 L101.9 604.4 L97.2 607.0 Z" fill="#3a3a38"/>
<path d="M102.7 609.5 L107.6 606.1 L114.2 611.4 L108.9 618.7 L103.7 616.1 Z" fill="#2a2622"/>
<path d="M84.6 608.5 L90.8 608.5 L101.5 614.5 L100.5 618.0 L86.9 611.4 Z" fill="#1e1c1a"/>
<path d="M83.3 609.8 L85.2 610.4 L102.1 618.5 L101.6 620.8 L84.6 613.0 Z" fill="#e8ecec"/>
<path d="M73.2 601.3 L75.5 598.4 L76.8 607.8 L74.5 607.0 Z" fill="#2a2a28"/>
<path d="M99.2 621.1 L105.0 623.7 L107.0 627.3 L101.1 625.3 Z" fill="#1a1a18"/>
<path d="M127.9 596.8 L141.7 591.4 L144.8 592.9 L163.3 621.4 L162.5 626.1 L148.7 633.8 L145.6 632.2 L128.6 598.3 Z" fill="#b65a46"/>
<path d="M131.7 601.4 L144.8 595.2 L153.7 609.1 L141.7 615.7 L137.1 611.4 Z" fill="#5a5448"/>
<path d="M138.3 610.7 L151.7 606.8 L154.2 610.0 L141.1 614.7 Z" fill="#585064"/>
<path d="M169.2 612.7 L175.7 606.9 L193.2 597.8 L202.3 595.2 L208.8 596.5 L214.0 600.4 L213.3 608.2 L207.5 611.4 L201.0 614.6 L190.6 621.1 L180.3 628.3 L173.8 627.6 L169.9 621.1 Z" fill="#3aa6d0"/>
<path d="M175.7 610.8 L183.5 606.2 L188.2 613.5 L181.6 617.4 Z" fill="#1e1c1a"/>
<path d="M186.8 602.6 L191.9 600.7 L193.2 603.3 L188.0 605.6 Z" fill="#2a3034"/>
<path d="M194.5 599.4 L199.7 597.8 L202.3 601.7 L197.1 603.6 Z" fill="#2a3034"/>
<path d="M189.3 611.4 L203.6 606.7 L205.0 609.5 L190.6 616.1 Z" fill="#1e1c1a"/>
<path d="M187.4 617.2 L204.9 609.5 L205.7 611.5 L188.7 620.0 Z" fill="#e4e8e8"/>
<path d="M180.3 623.7 L190.6 621.1 L189.3 625.0 L181.6 628.3 Z" fill="#1a2024"/>
<path d="M207.5 606.2 L214.0 601.0 L213.3 608.2 L208.2 610.8 Z" fill="#24333a"/>
<path d="M222.8 618.7 L226.9 610.5 L235.0 603.7 L246.6 593.5 L250.7 592.1 L257.5 594.1 L260.9 598.2 L259.6 605.7 L252.1 615.3 L243.9 626.2 L239.1 630.3 L231.6 629.6 L224.1 625.5 L222.1 622.1 Z" fill="#e4edd2"/>
<path d="M222.8 618.7 L226.9 610.5 L235.0 603.7 L238.4 608.4 L231.6 616.6 L226.2 623.4 L222.1 622.1 Z" fill="#d6dfc4"/>
<path d="M234.4 605.9 L239.1 602.5 L247.3 604.5 L244.7 611.3 L237.8 608.6 Z" fill="#1c1e18"/>
<path d="M249.0 601.6 L255.2 599.2 L256.5 601.3 L250.4 609.8 L248.1 608.6 Z" fill="#262a22"/>
<path d="M246.6 593.6 L253.4 593.3 L256.5 596.9 L248.7 595.6 Z" fill="#3a3e34"/>
<path d="M225.5 622.1 L233.0 624.8 L240.5 626.2 L238.4 628.4 L226.9 624.9 Z" fill="#2e3228"/>
<path d="M240.5 626.2 L244.0 623.4 L244.0 628.2 L239.8 630.4 Z" fill="#3a3e34"/>
<path d="M258.2 599.6 L260.9 598.2 L259.6 605.7 L256.9 607.1 Z" fill="#4a5044"/>
</g>
</g>

</svg>
</body></html>
